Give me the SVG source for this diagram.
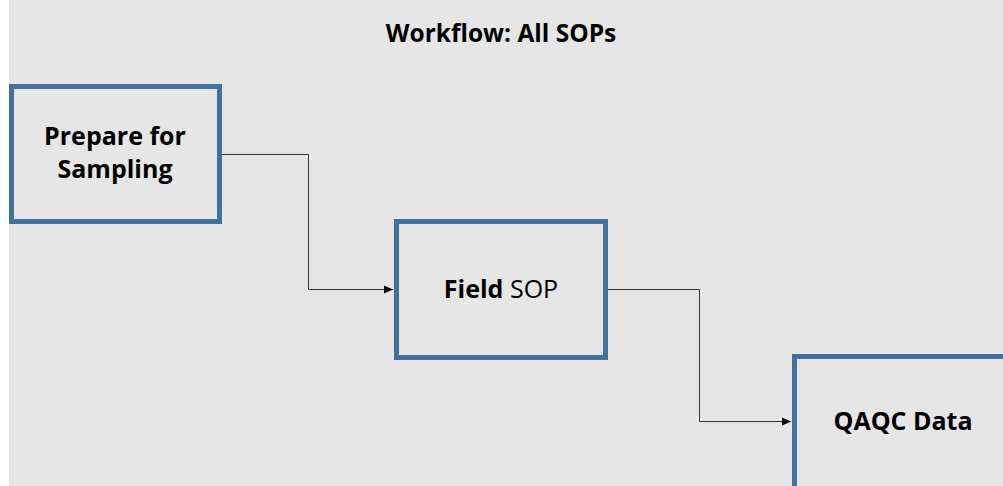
<svg xmlns="http://www.w3.org/2000/svg" width="1003" height="486" viewBox="0 0 1003 486">
<defs>
<style>
.node{fill:none;stroke:#41719c;stroke-width:5}
.lbl{font-family:"Open Sans","Noto Sans",sans-serif;font-size:25px;fill:#000;text-anchor:middle}
.b{font-weight:bold}
.conn{fill:none;stroke:#333;stroke-width:1}
</style>
<marker id="arr" markerWidth="10" markerHeight="10" refX="9" refY="5" orient="auto" markerUnits="userSpaceOnUse">
<path d="M0,1 L9,5 L0,9 Z" fill="#000"/>
</marker>
</defs>
<rect x="9" y="0" width="994" height="486" fill="#e6e6e6"/>
<text x="501" y="42" class="lbl b" style="font-size:24.5px">Workflow: All SOPs</text>
<g id="connectors">
<polyline class="conn" points="222,154.5 308.5,154.5 308.5,289.5 393,289.5" marker-end="url(#arr)"/>
<polyline class="conn" points="608,289.5 699.5,289.5 699.5,421.5 791,421.5" marker-end="url(#arr)"/>
</g>
<g id="prepare">
<rect class="node" x="11.5" y="86.5" width="208" height="135"/>
<text class="lbl b" x="115" y="145">Prepare for</text>
<text class="lbl b" x="115" y="178">Sampling</text>
</g>
<g id="field">
<rect class="node" x="396.5" y="221.5" width="209" height="136"/>
<text class="lbl" x="501" y="298"><tspan class="b">Field</tspan> SOP</text>
</g>
<g id="qaqc">
<rect class="node" x="794.5" y="356.5" width="220" height="140"/>
<text class="lbl b" x="903" y="430">QAQC Data</text>
</g>
</svg>
